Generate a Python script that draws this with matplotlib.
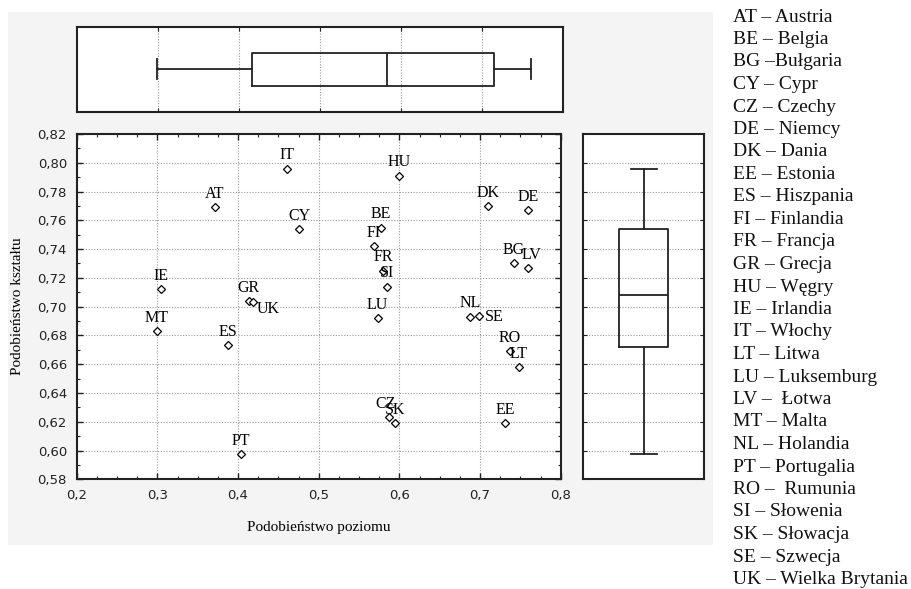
import numpy as np
import matplotlib
matplotlib.use("Agg")
import matplotlib.pyplot as plt
from matplotlib.patches import Rectangle
from matplotlib.ticker import MultipleLocator, FuncFormatter

# ---------------- data ----------------
countries = ["AT", "BE", "BG", "CY", "CZ", "DE", "DK", "EE", "ES", "FI", "FR", "GR", "HU",
             "IE", "IT", "LT", "LU", "LV", "MT", "NL", "PT", "RO", "SI", "SK", "SE", "UK"]
level_sim = [0.371, 0.577, 0.742, 0.476, 0.587, 0.760, 0.710, 0.731, 0.388, 0.568, 0.580, 0.413, 0.600,
             0.304, 0.461, 0.748, 0.573, 0.760, 0.2995, 0.688, 0.404, 0.737, 0.585, 0.595, 0.699, 0.418]
shape_sim = [0.769, 0.755, 0.730, 0.754, 0.623, 0.767, 0.770, 0.619, 0.673, 0.742, 0.725, 0.704, 0.791,
             0.712, 0.796, 0.658, 0.692, 0.727, 0.683, 0.693, 0.5976, 0.669, 0.714, 0.619, 0.6935, 0.703]

legend_lines = ["AT – Austria", "BE – Belgia", "BG –Bułgaria", "CY – Cypr", "CZ – Czechy",
                "DE – Niemcy", "DK – Dania", "EE – Estonia", "ES – Hiszpania", "FI – Finlandia",
                "FR – Francja", "GR – Grecja", "HU – Węgry", "IE – Irlandia", "IT – Włochy",
                "LT – Litwa", "LU – Luksemburg", "LV –  Łotwa", "MT – Malta", "NL – Holandia",
                "PT – Portugalia", "RO –  Rumunia", "SI – Słowenia", "SK – Słowacja",
                "SE – Szwecja", "UK – Wielka Brytania"]

x_label = "Podobieństwo poziomu"
y_label = "Podobieństwo kształtu"

# label placement exceptions (offsets in points), style only
label_offsets = {"UK": (11.5, -4.5), "SE": (11, -0.5), "CZ": (-2.5, 10), "LV": (2, 9.4)}

# ---------------- figure ----------------
W, H = 911, 589
fig = plt.figure(figsize=(W / 100, H / 100), dpi=100)
fig.patch.set_facecolor("white")

def px_rect(x0, y0, x1, y1):
    return [x0 / W, 1 - y1 / H, (x1 - x0) / W, (y1 - y0) / H]

# gray panel
fig.patches.append(Rectangle((8 / W, 1 - 545 / H), (713 - 8) / W, (545 - 12) / H,
                             transform=fig.transFigure, facecolor="#f4f4f4",
                             edgecolor="none", zorder=-10))

serif = "Liberation Serif"
sans = "DejaVu Sans"
grid_kw = dict(color="#999999", linestyle=(0, (1, 1.5)), linewidth=0.8)

comma = FuncFormatter(lambda v, p: ("%.1f" % v).replace(".", ","))
comma2 = FuncFormatter(lambda v, p: ("%.2f" % v).replace(".", ","))

def style_spines(ax):
    for s in ax.spines.values():
        s.set_linewidth(1.5)
        s.set_color("#222222")

# ---------------- scatter ----------------
ax = fig.add_axes(px_rect(76.7, 134, 560.7, 479.3))
ax.set_xlim(0.2, 0.8)
ax.set_ylim(0.58, 0.82)
ax.plot(level_sim, shape_sim, linestyle="none", marker="D", markersize=3.9,
        markerfacecolor="white", markeredgecolor="black", markeredgewidth=0.9, zorder=3)
for c, xv, yv in zip(countries, level_sim, shape_sim):
    dx, dy = label_offsets.get(c, (0, 9.6))
    ax.annotate(c, (xv, yv), xytext=(dx, dy), textcoords="offset points",
                ha="center", va="center", fontsize=11.5, family=serif, zorder=4)
ax.xaxis.set_major_locator(MultipleLocator(0.1))
ax.xaxis.set_minor_locator(MultipleLocator(0.025))
ax.yaxis.set_major_locator(MultipleLocator(0.02))
ax.yaxis.set_minor_locator(MultipleLocator(0.01))
ax.xaxis.set_major_formatter(comma)
ax.yaxis.set_major_formatter(comma2)
ax.tick_params(which="both", direction="in", top=True, right=True, colors="#222222")
ax.tick_params(which="major", length=4, width=1.0, labelsize=9.5, pad=7)
ax.tick_params(which="minor", length=2.5, width=0.8)
for lab in ax.get_xticklabels() + ax.get_yticklabels():
    lab.set_family(sans)
ax.grid(True, which="major", **grid_kw)
ax.set_axisbelow(True)
ax.set_xlabel(x_label, family=serif, fontsize=11, labelpad=14)
ax.set_ylabel(y_label, family=serif, fontsize=11, labelpad=10)
style_spines(ax)

# box stats helper
def stats(vals):
    v = np.asarray(vals)
    q1, med, q3 = np.percentile(v, [25, 50, 75], method="weibull")
    return [dict(med=med, q1=q1, q3=q3, whislo=v.min(), whishi=v.max(), fliers=[])]

line_kw = dict(color="#222222", linewidth=1.3)

# ---------------- top boxplot (x) ----------------
axt = fig.add_axes(px_rect(76.7, 26.7, 563, 111.7))
axt.set_xlim(0.2, 0.8)
axt.set_ylim(0, 1)
axt.bxp(stats(level_sim), positions=[0.5], widths=0.385, vert=False, capwidths=0.23,
        showfliers=False, patch_artist=False,
        boxprops=line_kw, whiskerprops=line_kw, capprops=line_kw,
        medianprops=line_kw, manage_ticks=False)
axt.set_xticks([0.3, 0.4, 0.5, 0.6, 0.7])
axt.set_yticks([])
axt.tick_params(axis="x", direction="in", top=True, bottom=True, length=3,
                labelbottom=False, colors="#222222")
axt.grid(True, axis="x", **grid_kw)
axt.set_axisbelow(True)
style_spines(axt)

# ---------------- right boxplot (y) ----------------
axr = fig.add_axes(px_rect(583.3, 134, 704.3, 479.3))
axr.set_ylim(0.58, 0.82)
axr.set_xlim(0, 1)
axr.bxp(stats(shape_sim), positions=[0.5], widths=0.405, vert=True, capwidths=0.21,
        showfliers=False, patch_artist=False,
        boxprops=line_kw, whiskerprops=line_kw, capprops=line_kw,
        medianprops=line_kw, manage_ticks=False)
axr.set_yticks(np.round(np.arange(0.60, 0.8001, 0.02), 2))
axr.set_xticks([])
axr.tick_params(axis="y", direction="in", left=True, right=True, length=3,
                labelleft=False, colors="#222222")
axr.grid(True, axis="y", **grid_kw)
axr.set_axisbelow(True)
style_spines(axr)

# ---------------- country legend ----------------
for i, line in enumerate(legend_lines):
    fig.text(732.7 / W, 1 - (17 + i * 22.5) / H, line, family=serif, fontsize=14,
             ha="left", va="center", color="#111111")

fig.savefig("out.png", dpi=100, facecolor="white")
